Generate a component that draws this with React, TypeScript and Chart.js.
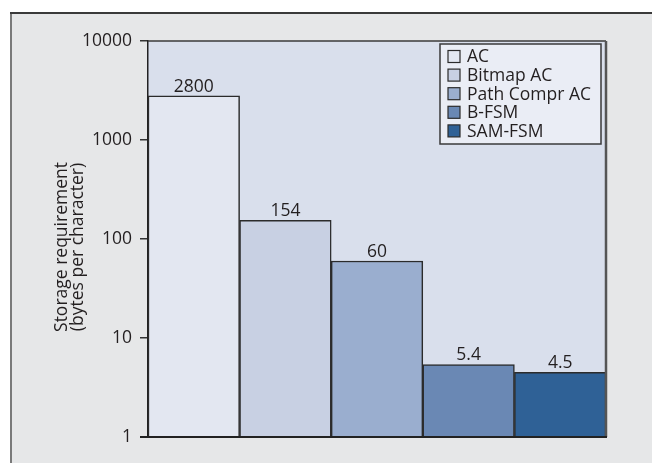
import React, { useEffect, useRef } from 'react';
import { Chart, registerables } from 'chart.js';

Chart.register(...registerables);

const categories = ['AC', 'Bitmap AC', 'Path Compr AC', 'B-FSM', 'SAM-FSM'];
const values = [2800, 154, 60, 5.4, 4.5];
const valueLabels = ['2800', '154', '60', '5.4', '4.5'];
const barColors = ['#e3e7f1', '#c8d0e3', '#9aaecf', '#6a88b4', '#2f6196'];
const yTicks = [1, 10, 100, 1000, 10000];
const yTitle = ['Storage requirement', '(bytes per character)'];

const FONT = "'Open Sans', 'Noto Sans', sans-serif";
const TEXT = '#231f20';
const FS = 17.5;

const decorPlugin = {
  id: 'decor',
  beforeDraw(chart: any) {
    const { ctx, chartArea } = chart;
    const W = chart.width;
    const H = chart.height;
    ctx.save();
    ctx.fillStyle = '#ffffff';
    ctx.fillRect(0, 0, W, H);
    ctx.fillStyle = '#e6e7e8';
    ctx.fillRect(11, 13, W - 11, H - 13);
    ctx.strokeStyle = '#7a7a7a';
    ctx.lineWidth = 2;
    ctx.beginPath();
    ctx.moveTo(11, 13);
    ctx.lineTo(11, H);
    ctx.stroke();
    ctx.strokeStyle = '#3a3a3a';
    ctx.beginPath();
    ctx.moveTo(10, 13);
    ctx.lineTo(W, 13);
    ctx.stroke();
    ctx.fillStyle = '#d9dfec';
    ctx.fillRect(chartArea.left, chartArea.top, chartArea.right - chartArea.left, chartArea.bottom - chartArea.top);
    ctx.restore();
  },
  afterDatasetsDraw(chart: any) {
    const { ctx, chartArea } = chart;
    ctx.save();
    const meta = chart.getDatasetMeta(0);
    ctx.font = `${FS}px ${FONT}`;
    ctx.fillStyle = TEXT;
    ctx.textAlign = 'center';
    ctx.textBaseline = 'alphabetic';
    meta.data.forEach((bar: any, i: number) => {
      ctx.fillText(valueLabels[i], bar.x, bar.y - 4);
    });
    ctx.strokeStyle = '#3a3a3a';
    ctx.lineWidth = 1.5;
    ctx.beginPath();
    ctx.moveTo(chartArea.left, chartArea.top);
    ctx.lineTo(chartArea.right, chartArea.top);
    ctx.stroke();
    ctx.strokeStyle = '#555555';
    ctx.lineWidth = 2.5;
    ctx.beginPath();
    ctx.moveTo(chartArea.right, chartArea.top);
    ctx.lineTo(chartArea.right, chartArea.bottom);
    ctx.stroke();
    ctx.strokeStyle = '#222222';
    ctx.lineWidth = 2;
    ctx.beginPath();
    ctx.moveTo(chartArea.left - 8, chartArea.bottom);
    ctx.lineTo(chartArea.right + 1, chartArea.bottom);
    ctx.stroke();

    const lx = 440, ly = 44, lw = 161, lh = 100;
    ctx.fillStyle = '#eaedf5';
    ctx.fillRect(lx, ly, lw, lh);
    ctx.strokeStyle = '#3a3a3a';
    ctx.lineWidth = 1.5;
    ctx.strokeRect(lx, ly, lw, lh);
    ctx.textAlign = 'left';
    ctx.textBaseline = 'middle';
    ctx.font = `${FS}px ${FONT}`;
    categories.forEach((c, i) => {
      const cy = 56.5 + i * 18.6;
      ctx.fillStyle = barColors[i];
      ctx.fillRect(448, cy - 6, 12, 12);
      ctx.strokeStyle = '#2b2b2b';
      ctx.lineWidth = 1.2;
      ctx.strokeRect(448, cy - 6, 12, 12);
      ctx.fillStyle = TEXT;
      ctx.fillText(c, 467, cy + 1);
    });

    ctx.translate(70, 247);
    ctx.rotate(-Math.PI / 2);
    ctx.textAlign = 'center';
    ctx.textBaseline = 'middle';
    ctx.fillStyle = TEXT;
    ctx.fillText(yTitle[0], 0, -8);
    ctx.fillText(yTitle[1], 0, 8);
    ctx.restore();
  },
};

export default function App() {
  const ref = useRef<HTMLCanvasElement | null>(null);
  useEffect(() => {
    if (!ref.current) return;
    const chart = new Chart(ref.current, {
      type: 'bar',
      data: {
        labels: categories,
        datasets: [
          {
            data: values,
            backgroundColor: barColors,
            borderColor: '#2b2b2b',
            borderWidth: 1.5,
            categoryPercentage: 1,
            barPercentage: 1,
          },
        ],
      },
      options: {
        animation: false,
        responsive: false,
        maintainAspectRatio: false,
        layout: { padding: { left: 0, top: 41, right: 46, bottom: 26 } },
        plugins: { legend: { display: false }, tooltip: { enabled: false } },
        scales: {
          x: { display: false },
          y: {
            type: 'logarithmic',
            min: 1,
            max: 10000,
            afterBuildTicks: (scale: any) => {
              scale.ticks = yTicks.map((v) => ({ value: v }));
            },
            afterFit: (scale: any) => {
              scale.width = 148;
            },
            border: { display: true, color: '#222222', width: 1.5 },
            grid: { drawOnChartArea: false, drawTicks: true, tickLength: 8, color: '#333333', lineWidth: 1.5 },
            ticks: {
              padding: 8,
              color: TEXT,
              font: { family: FONT, size: FS },
              callback: (v: any) => String(v),
            },
          },
        },
      },
      plugins: [decorPlugin],
    });
    return () => chart.destroy();
  }, []);
  return (
    <div style={{ position: 'fixed', left: 0, top: 0, width: 652, height: 463, overflow: 'hidden', background: '#fff' }}>
      <canvas ref={ref} width={652} height={463} style={{ display: 'block', width: 652, height: 463 }} />
    </div>
  );
}
